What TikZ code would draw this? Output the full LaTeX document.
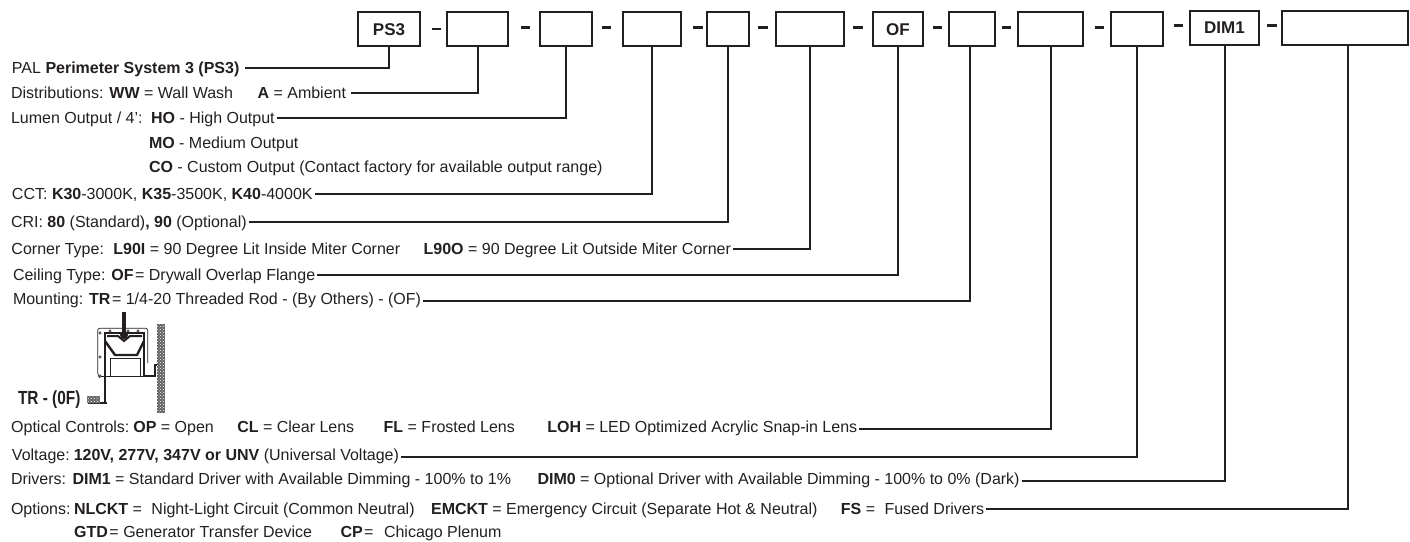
\documentclass[tikz,border=0pt]{standalone}
\usepackage{fontspec}
\setmainfont{Liberation Sans}
\usetikzlibrary{patterns}
\definecolor{ink}{HTML}{231F20}
\tikzset{
  slot/.style={draw=ink, line width=2.3pt, minimum height=34pt, inner sep=0pt, font=\fontsize{17}{19}\selectfont\bfseries, text=ink},
  sepdash/.style={fill=ink, minimum width=9.5pt, minimum height=2.6pt, inner sep=0pt},
  lab/.style={anchor=west, inner sep=0pt, outer xsep=2pt, text height=12pt, text depth=1pt, font=\fontsize{16}{18}\selectfont, text=ink},
  lablow/.style={lab, text height=10pt, text depth=3pt},
  lead/.style={draw=ink, line width=2pt}
}
\begin{document}
\begin{tikzpicture}[x=1pt, y=-1pt]
  \useasboundingbox (0,0) rectangle (1410,541);

  %% order code boxes
  \node[slot, minimum width=62pt] (ps3) at (389,29.2) {PS3};
  \node[slot, minimum width=61pt] (dist) at (477.5,29.2) {};
  \node[slot, minimum width=52pt] (lumen) at (566,29.2) {};
  \node[slot, minimum width=58pt] (cct) at (652,29.2) {};
  \node[slot, minimum width=42pt] (cri) at (728,29.2) {};
  \node[slot, minimum width=68pt] (corner) at (810,29.2) {};
  \node[slot, minimum width=50pt] (ceiling) at (898,29.2) {OF};
  \node[slot, minimum width=46pt] (mount) at (972,29.2) {};
  \node[slot, minimum width=65pt] (optical) at (1050.5,29.2) {};
  \node[slot, minimum width=52pt] (volt) at (1137,29.2) {};
  \node[slot, minimum width=69pt] (driver) at (1224.5,27.8) {DIM1};
  \node[slot, minimum width=126pt] (option) at (1345,27.8) {};

  %% dashes between the boxes
  \node[sepdash] (d1) at (436.5,29) {};
  \node[sepdash] (d2) at (525.5,27.3) {};
  \node[sepdash] (d3) at (606.5,27.5) {};
  \node[sepdash] (d4) at (698,27.3) {};
  \node[sepdash] (d5) at (763,27.5) {};
  \node[sepdash] (d6) at (858,27.5) {};
  \node[sepdash] (d7) at (937.5,27.5) {};
  \node[sepdash] (d8) at (1006.5,27.5) {};
  \node[sepdash] (d9) at (1099.5,27.5) {};
  \node[sepdash] (d10) at (1178.5,25.7) {};
  \node[sepdash] (d11) at (1272,25.7) {};

  %% option lines
  \node[lab] (lpal) at (10,67.5) {PAL \textbf{Perimeter System 3 (PS3)}};
  \node[lab] (ldist) at (9,92.7) {Distributions: \textbf{WW} = Wall Wash\hspace{20pt} \textbf{A} = Ambient};
  \node[lab] (llumen) at (9,118) {Lumen Output / 4’:\hspace{2.5pt} \textbf{HO} - High Output};
  \node[lab] (lmo) at (147,142.7) {\textbf{MO} - Medium Output};
  \node[lab] (lco) at (147,167) {\textbf{CO} - Custom Output (Contact factory for available output range)};
  \node[lab] (lcct) at (10,193.5) {CCT: \textbf{K30}-3000K, \textbf{K35}-3500K, \textbf{K40}-4000K};
  \node[lab] (lcri) at (9,222) {CRI: \textbf{80} (Standard)\textbf{, 90} (Optional)};
  \node[lab] (lcorner) at (9.5,248.7) {Corner Type:\hspace{3.5pt} \textbf{L90I} = 90 Degree Lit Inside Miter Corner\hspace{19pt} \textbf{L90O} = 90 Degree Lit Outside Miter Corner};
  \node[lab] (lceil) at (11,275) {Ceiling Type: \textbf{OF}\hspace{1.5pt}= Drywall Overlap Flange};
  \node[lablow] (lmount) at (11,301) {Mounting: \textbf{TR}\hspace{1.5pt}= 1/4-20 Threaded Rod - (By Others) - (OF)};
  \node[lab] (ltr) at (16,399) {\fontsize{19}{21}\selectfont\scalebox{.81}[1]{\textbf{TR - (0F)}}};
  \node[lablow] (lopt) at (9.2,429) {Optical Controls:\hspace{-2pt} \textbf{OP} = Open\hspace{19pt} \textbf{CL} = Clear Lens\hspace{25pt} \textbf{FL} = Frosted Lens\hspace{28pt} \textbf{LOH} = LED Optimized Acrylic Snap-in Lens};
  \node[lablow] (lvolt) at (10,456.7) {Voltage:\hspace{-2pt} \textbf{120V, 277V, 347V or UNV} (Universal Voltage)};
  \node[lablow] (ldrv) at (9,480.7) {Drivers:\hspace{.5pt} \textbf{DIM1} = Standard Driver with Available Dimming - 100\% to 1\%\hspace{22pt} \textbf{DIM0} = Optional Driver with Available Dimming - 100\% to 0\% (Dark)};
  \node[lab] (lopts) at (9,509) {Options:\hspace{-2.5pt} \textbf{NLCKT} =\hspace{5pt} Night-Light Circuit (Common Neutral)\hspace{12pt} \textbf{EMCKT} = Emergency Circuit (Separate Hot \& Neutral)\hspace{19pt} \textbf{FS} =\hspace{5pt} Fused Drivers};
  \node[lablow] (lgtd) at (72.2,533.5) {\textbf{GTD}\hspace{1.5pt}= Generator Transfer Device\hspace{24pt} \textbf{CP}\hspace{1.5pt}=\hspace{6pt} Chicago Plenum};

  %% leaders
  \draw[lead, shorten >=3.5pt] (ps3.south) |- (lpal.east);
  \draw[lead, shorten >=2.5pt] (dist.south) |- (ldist.east);
  \draw[lead] (lumen.south) |- (llumen.east);
  \draw[lead] (cct.south) |- (lcct.east);
  \draw[lead] (cri.south) |- (lcri.east);
  \draw[lead] (corner.south) |- (lcorner.east);
  \draw[lead] (ceiling.south) |- (lceil.east);
  \draw[lead] ([xshift=-2pt]mount.south) |- (lmount.east);
  \draw[lead] (optical.south) |- (lopt.east);
  \draw[lead] (volt.south) |- (lvolt.east);
  \draw[lead] (driver.south) |- (ldrv.east);
  \draw[lead] ([xshift=3pt]option.south) |- (lopts.east);

  %% fixture section
  \fill[ink] (122,312) rectangle (126,336);
  \draw[ink, line width=.7pt, rounded corners=2pt] (100,378) -- (97.7,375) -- (97.7,328.3) -- (147.7,328.3) -- (147.7,363);
  \draw[ink, line width=2.4pt] (105,403) -- (105,333) -- (144,333) -- (144,376) -- (155,376) -- (155,365) -- (157,365);
  \draw[ink, line width=2.4pt] (105,341) -- (115,355) -- (137,355) -- (144,341);
  \draw[ink, line width=2pt] (107,336) -- (118,336) -- (124,341) -- (130,336) -- (142,336);
  \draw[ink, line width=1pt] (110,376) -- (110,358) -- (140,358) -- (140,376);
  \draw[ink, line width=1pt] (101,376) -- (156,376);
  \draw[ink, line width=2.4pt] (88,403) -- (107,403);
  \fill[ink] (124,335) circle (4pt);
  \foreach \hx/\hy in {100/333, 110/331, 128/331, 138/331, 100/357, 100/376}
    \draw[ink, fill=white, line width=.5pt] (\hx,\hy) circle (1.2pt);
  \fill[ink!70] (156.7,324) rectangle (165,413);
  \fill[pattern=crosshatch dots, pattern color=white] (156.7,324) rectangle (165,413);
  \fill[ink!70] (87,396) rectangle (100,403);
  \fill[pattern=crosshatch dots, pattern color=white] (87,396) rectangle (100,403);
\end{tikzpicture}
\end{document}
